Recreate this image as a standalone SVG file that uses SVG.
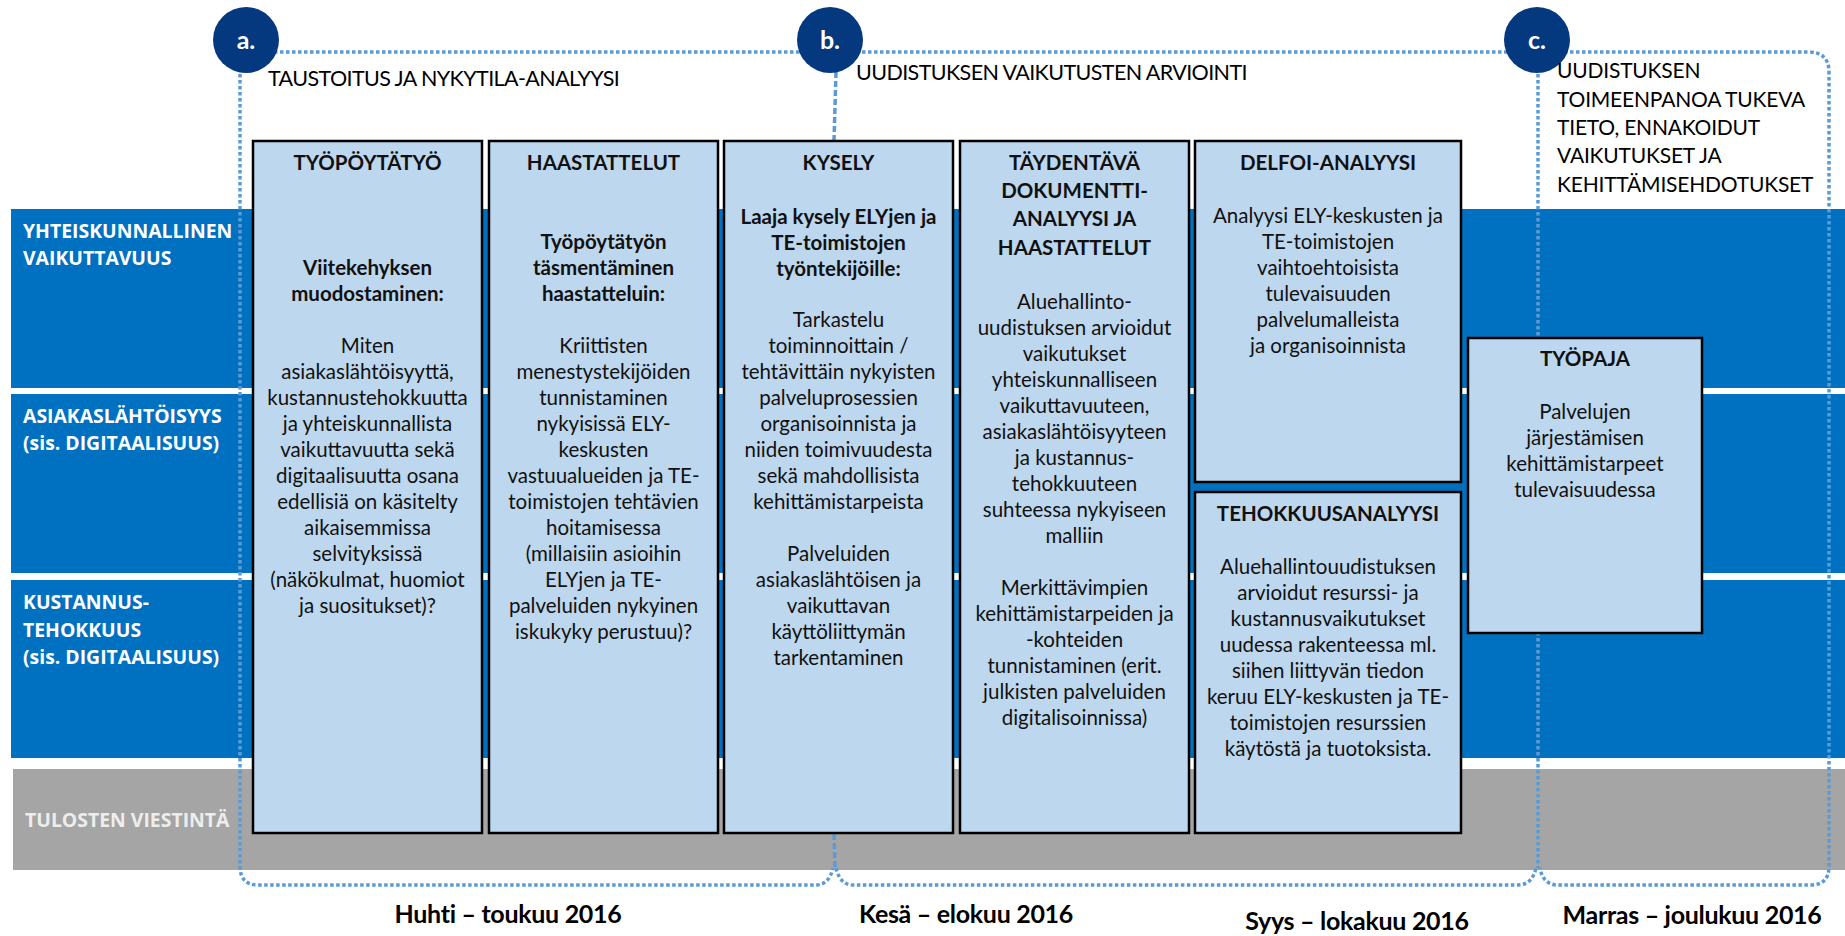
<svg xmlns="http://www.w3.org/2000/svg" width="1845" height="936" viewBox="0 0 1845 936">
<style>
.band{fill:#0070C0}
.gray{fill:#A5A5A5}
.box{fill:#BDD7EE;stroke:#000;stroke-width:2.5}
.lbl{font-family:"Open Sans","Liberation Sans",sans-serif;font-weight:bold;font-size:19.4px;fill:#fff}
.lblg{font-family:"Open Sans","Liberation Sans",sans-serif;font-weight:bold;font-size:19.4px;fill:#EDEDED}
.hdr{font-family:Lato,"Liberation Sans",sans-serif;font-size:21.5px;letter-spacing:-0.6px;fill:#000}
.hdc{font-family:Lato,"Liberation Sans",sans-serif;font-size:21px;letter-spacing:-0.2px;fill:#000}
.ttl{font-family:Lato,"Liberation Sans",sans-serif;font-weight:bold;font-size:20.5px;fill:#111;text-anchor:middle}
.bb{font-family:Lato,"Liberation Sans",sans-serif;font-weight:bold;font-size:20.5px;fill:#111;text-anchor:middle}
.bt{font-family:Lato,"Liberation Sans",sans-serif;font-size:20.5px;fill:#111;text-anchor:middle}
.date{font-family:Lato,"Liberation Sans",sans-serif;font-weight:bold;font-size:25px;letter-spacing:-0.3px;fill:#000;text-anchor:middle}
.dot{fill:none;stroke:#5B9BD5;stroke-width:3.5;stroke-dasharray:3.5 2.5}
.dash{fill:none;stroke:#5B9BD5;stroke-width:3.5;stroke-dasharray:6 3}
.circ{fill:#04387F}
.ctx{font-family:Lato,"Liberation Sans",sans-serif;font-weight:bold;font-size:25px;fill:#fff;text-anchor:middle}
</style>
<rect width="1845" height="936" fill="#fff"/>
<g id="bands">
<rect class="band" x="11" y="209" width="1834" height="179"/>
<rect class="band" x="11" y="394" width="1834" height="179"/>
<rect class="band" x="11" y="580" width="1834" height="178"/>
<rect class="gray" x="13" y="769" width="1832" height="101"/>
<text class="lbl" x="23" y="238">YHTEISKUNNALLINEN</text>
<text class="lbl" x="23" y="265">VAIKUTTAVUUS</text>
<text class="lbl" x="23" y="423">ASIAKASLÄHTÖISYYS</text>
<text class="lbl" x="23" y="450">(sis. DIGITAALISUUS)</text>
<text class="lbl" x="23" y="609">KUSTANNUS-</text>
<text class="lbl" x="23" y="637">TEHOKKUUS</text>
<text class="lbl" x="23" y="664">(sis. DIGITAALISUUS)</text>
<text class="lblg" x="25" y="827">TULOSTEN VIESTINTÄ</text>
</g>
<g id="connectors">
<path class="dot" d="M240,62 V866 Q240,885 258,885 H816 Q829,885 833,868"/>
<path class="dash" d="M836,72 L834,141"/>
<path class="dash" d="M834,834 L835,868"/>
<path class="dot" d="M836,868 Q840,885 853,885 H1518 Q1532,885 1536,868"/>
<path class="dot" d="M1538,62 V868"/>
<path class="dot" d="M250,52 H1808 Q1829,52 1829,72 V866 Q1829,885 1811,885 H1558 Q1543,885 1540,868"/>
</g>
<g id="phase-a">
<circle class="circ" cx="246" cy="40" r="33"/>
<text class="ctx" x="246" y="49">a.</text>
<text class="hdr" x="268" y="86">TAUSTOITUS JA NYKYTILA-ANALYYSI</text>
</g>
<g id="phase-b">
<circle class="circ" cx="830" cy="40" r="33"/>
<text class="ctx" x="830" y="49">b.</text>
<text class="hdr" x="856" y="80">UUDISTUKSEN VAIKUTUSTEN ARVIOINTI</text>
</g>
<g id="phase-c">
<circle class="circ" cx="1537" cy="40" r="33"/>
<text class="ctx" x="1537" y="49">c.</text>
<text class="hdc" x="1557" y="78">UUDISTUKSEN</text>
<text class="hdc" x="1557" y="107">TOIMEENPANOA TUKEVA</text>
<text class="hdc" x="1557" y="135">TIETO, ENNAKOIDUT</text>
<text class="hdc" x="1557" y="163">VAIKUTUKSET JA</text>
<text class="hdc" x="1557" y="192">KEHITTÄMISEHDOTUKSET</text>
</g>
<g id="box-tyopoytatyo">
<rect class="box" x="253" y="141" width="229" height="692"/>
<text class="ttl" x="367.5" y="170">TYÖPÖYTÄTYÖ</text>
<text class="bb" x="367.5" y="275">Viitekehyksen</text>
<text class="bb" x="367.5" y="301">muodostaminen:</text>
<text class="bt"><tspan x="367.5" y="353">Miten</tspan><tspan x="367.5" y="379">asiakaslähtöisyyttä,</tspan><tspan x="367.5" y="405">kustannustehokkuutta</tspan><tspan x="367.5" y="431">ja yhteiskunnallista</tspan><tspan x="367.5" y="457">vaikuttavuutta sekä</tspan><tspan x="367.5" y="483">digitaalisuutta osana</tspan><tspan x="367.5" y="509">edellisiä on käsitelty</tspan><tspan x="367.5" y="535">aikaisemmissa</tspan><tspan x="367.5" y="561">selvityksissä</tspan><tspan x="367.5" y="587">(näkökulmat, huomiot</tspan><tspan x="367.5" y="613">ja suositukset)?</tspan></text>
</g>
<g id="box-haastattelut">
<rect class="box" x="489" y="141" width="229" height="692"/>
<text class="ttl" x="603.5" y="170">HAASTATTELUT</text>
<text class="bb"><tspan x="603.5" y="249">Työpöytätyön</tspan><tspan x="603.5" y="275">täsmentäminen</tspan><tspan x="603.5" y="301">haastatteluin:</tspan></text>
<text class="bt"><tspan x="603.5" y="353">Kriittisten</tspan><tspan x="603.5" y="379">menestystekijöiden</tspan><tspan x="603.5" y="405">tunnistaminen</tspan><tspan x="603.5" y="431">nykyisissä ELY-</tspan><tspan x="603.5" y="457">keskusten</tspan><tspan x="603.5" y="483">vastuualueiden ja TE-</tspan><tspan x="603.5" y="509">toimistojen tehtävien</tspan><tspan x="603.5" y="535">hoitamisessa</tspan><tspan x="603.5" y="561">(millaisiin asioihin</tspan><tspan x="603.5" y="587">ELYjen ja TE-</tspan><tspan x="603.5" y="613">palveluiden nykyinen</tspan><tspan x="603.5" y="639">iskukyky perustuu)?</tspan></text>
</g>
<g id="box-kysely">
<rect class="box" x="724" y="141" width="229" height="692"/>
<text class="ttl" x="838.5" y="170">KYSELY</text>
<text class="bb"><tspan x="838.5" y="224">Laaja kysely ELYjen ja</tspan><tspan x="838.5" y="250">TE-toimistojen</tspan><tspan x="838.5" y="276">työntekijöille:</tspan></text>
<text class="bt"><tspan x="838.5" y="327">Tarkastelu</tspan><tspan x="838.5" y="353">toiminnoittain /</tspan><tspan x="838.5" y="379">tehtävittäin nykyisten</tspan><tspan x="838.5" y="405">palveluprosessien</tspan><tspan x="838.5" y="431">organisoinnista ja</tspan><tspan x="838.5" y="457">niiden toimivuudesta</tspan><tspan x="838.5" y="483">sekä mahdollisista</tspan><tspan x="838.5" y="509">kehittämistarpeista</tspan><tspan x="838.5" y="561">Palveluiden</tspan><tspan x="838.5" y="587">asiakaslähtöisen ja</tspan><tspan x="838.5" y="613">vaikuttavan</tspan><tspan x="838.5" y="639">käyttöliittymän</tspan><tspan x="838.5" y="665">tarkentaminen</tspan></text>
</g>
<g id="box-taydentava">
<rect class="box" x="960" y="141" width="229" height="692"/>
<text class="ttl"><tspan x="1074.5" y="170">TÄYDENTÄVÄ</tspan><tspan x="1074.5" y="198">DOKUMENTTI-</tspan><tspan x="1074.5" y="226">ANALYYSI JA</tspan><tspan x="1074.5" y="255">HAASTATTELUT</tspan></text>
<text class="bt"><tspan x="1074.5" y="309">Aluehallinto-</tspan><tspan x="1074.5" y="335">uudistuksen arvioidut</tspan><tspan x="1074.5" y="361">vaikutukset</tspan><tspan x="1074.5" y="387">yhteiskunnalliseen</tspan><tspan x="1074.5" y="413">vaikuttavuuteen,</tspan><tspan x="1074.5" y="439">asiakaslähtöisyyteen</tspan><tspan x="1074.5" y="465">ja kustannus-</tspan><tspan x="1074.5" y="491">tehokkuuteen</tspan><tspan x="1074.5" y="517">suhteessa nykyiseen</tspan><tspan x="1074.5" y="543">malliin</tspan><tspan x="1074.5" y="595">Merkittävimpien</tspan><tspan x="1074.5" y="621">kehittämistarpeiden ja</tspan><tspan x="1074.5" y="647">-kohteiden</tspan><tspan x="1074.5" y="673">tunnistaminen (erit.</tspan><tspan x="1074.5" y="699">julkisten palveluiden</tspan><tspan x="1074.5" y="725">digitalisoinnissa)</tspan></text>
</g>
<g id="box-delfoi">
<rect class="box" x="1195" y="141" width="266" height="341"/>
<text class="ttl" x="1328" y="170">DELFOI-ANALYYSI</text>
<text class="bt"><tspan x="1328" y="223">Analyysi ELY-keskusten ja</tspan><tspan x="1328" y="249">TE-toimistojen</tspan><tspan x="1328" y="275">vaihtoehtoisista</tspan><tspan x="1328" y="301">tulevaisuuden</tspan><tspan x="1328" y="327">palvelumalleista</tspan><tspan x="1328" y="353">ja organisoinnista</tspan></text>
</g>
<g id="box-tehokkuusanalyysi">
<rect class="box" x="1195" y="492" width="266" height="341"/>
<text class="ttl" x="1328" y="521">TEHOKKUUSANALYYSI</text>
<text class="bt"><tspan x="1328" y="574">Aluehallintouudistuksen</tspan><tspan x="1328" y="600">arvioidut resurssi- ja</tspan><tspan x="1328" y="626">kustannusvaikutukset</tspan><tspan x="1328" y="652">uudessa rakenteessa ml.</tspan><tspan x="1328" y="678">siihen liittyvän tiedon</tspan><tspan x="1328" y="704">keruu ELY-keskusten ja TE-</tspan><tspan x="1328" y="730">toimistojen resurssien</tspan><tspan x="1328" y="756">käytöstä ja tuotoksista.</tspan></text>
</g>
<g id="box-tyopaja">
<rect class="box" x="1468" y="338" width="234" height="295"/>
<text class="ttl" x="1585" y="366">TYÖPAJA</text>
<text class="bt"><tspan x="1585" y="419">Palvelujen</tspan><tspan x="1585" y="445">järjestämisen</tspan><tspan x="1585" y="471">kehittämistarpeet</tspan><tspan x="1585" y="497">tulevaisuudessa</tspan></text>
</g>
<g id="dates">
<text class="date" x="508" y="923">Huhti – toukuu 2016</text>
<text class="date" x="966" y="923">Kesä – elokuu 2016</text>
<text class="date" x="1357" y="930">Syys – lokakuu 2016</text>
<text class="date" x="1692" y="924">Marras – joulukuu 2016</text>
</g>
</svg>
